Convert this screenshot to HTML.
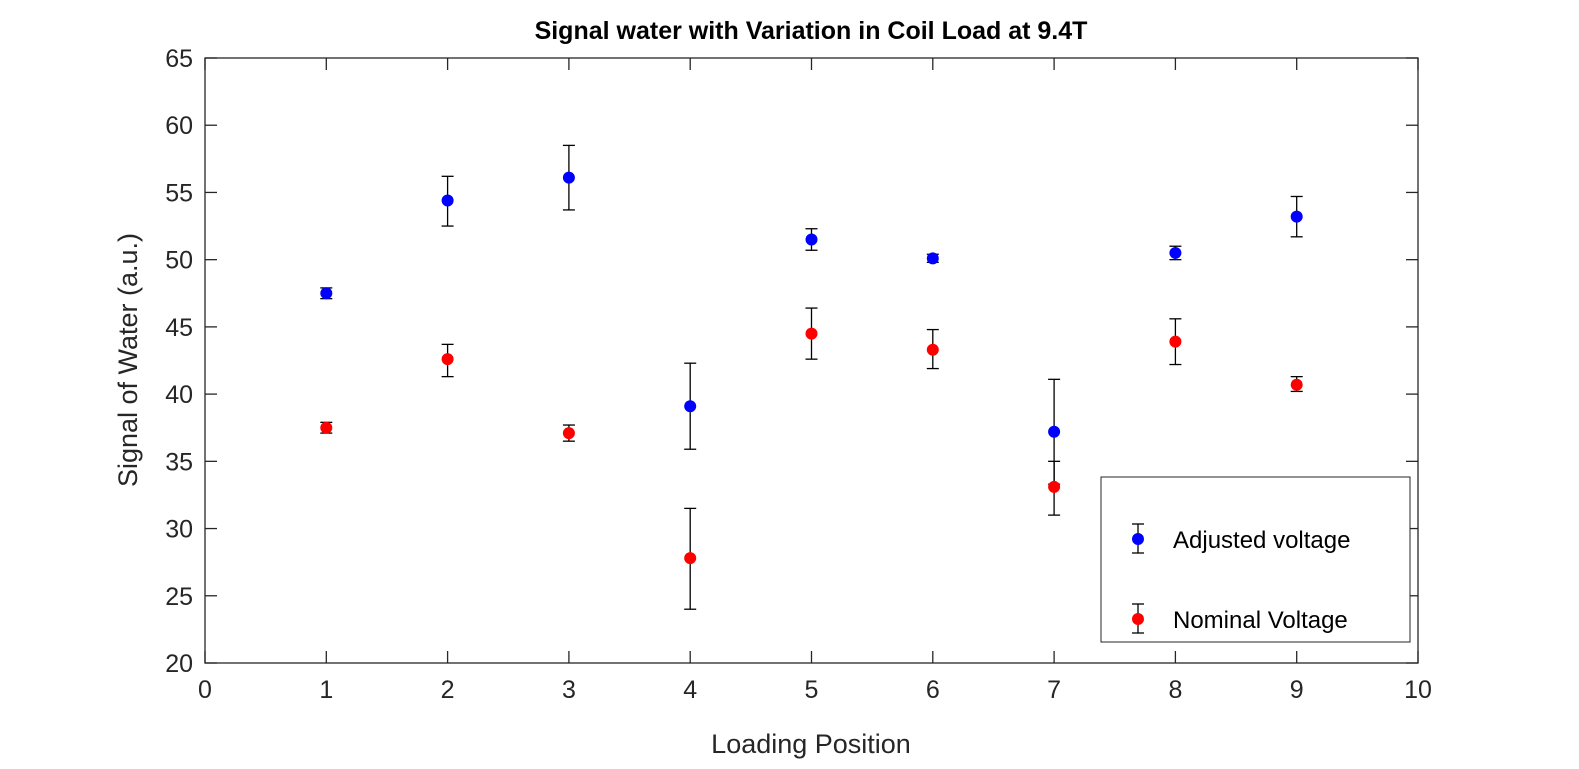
<!DOCTYPE html>
<html><head><meta charset="utf-8"><style>
body{margin:0;background:#fff;}
svg{display:block;font-family:"Liberation Sans",Arial,sans-serif;}
</style></head><body>
<svg id="chart" width="1579" height="769">
<rect width="1579" height="769" fill="#fff"/>
<text x="811" y="39" text-anchor="middle" font-size="25" font-weight="bold" fill="#000">Signal water with Variation in Coil Load at 9.4T</text>
<g id="axes"></g>
<g id="marks"></g>
<text x="811" y="753" text-anchor="middle" font-size="27" fill="#262626">Loading Position</text>
<text transform="translate(137,360) rotate(-90)" text-anchor="middle" font-size="27" fill="#262626">Signal of Water (a.u.)</text>
<g>
<rect x="1101" y="477" width="309" height="165" fill="#fff" stroke="#262626" stroke-width="1"/>
<g>
<line x1="1138" y1="524" x2="1138" y2="553" stroke="#000" stroke-width="1.3"/>
<line x1="1132" y1="524" x2="1144" y2="524" stroke="#000" stroke-width="1.3"/>
<line x1="1132" y1="553" x2="1144" y2="553" stroke="#000" stroke-width="1.3"/>
<circle cx="1138" cy="539" r="6" fill="#0000ff"/>
<text x="1173" y="548" font-size="24" fill="#000">Adjusted voltage</text>
</g>
<g>
<line x1="1138" y1="604" x2="1138" y2="633" stroke="#000" stroke-width="1.3"/>
<line x1="1132" y1="604" x2="1144" y2="604" stroke="#000" stroke-width="1.3"/>
<line x1="1132" y1="633" x2="1144" y2="633" stroke="#000" stroke-width="1.3"/>
<circle cx="1138" cy="619" r="6" fill="#ff0000"/>
<text x="1173" y="628" font-size="24" fill="#000">Nominal Voltage</text>
</g>
</g>
</svg>
<script>
const categories=[1,2,3,4,5,6,7,8,9];
const adjustedValues=[47.5,54.4,56.1,39.1,51.5,50.1,37.2,50.5,53.2];
const adjustedLow=[47.1,52.5,53.7,35.9,50.7,49.8,33.3,50.0,51.7];
const adjustedHigh=[47.9,56.2,58.5,42.3,52.3,50.4,41.1,51.0,54.7];
const nominalValues=[37.5,42.6,37.1,27.8,44.5,43.3,33.1,43.9,40.7];
const nominalLow=[37.1,41.3,36.5,24.0,42.6,41.9,31.0,42.2,40.2];
const nominalHigh=[37.9,43.7,37.7,31.5,46.4,44.8,35.0,45.6,41.3];
const xTicks=[0,1,2,3,4,5,6,7,8,9,10];
const yTicks=[20,25,30,35,40,45,50,55,60,65];

const L=205,R=1418,T=58,B=663;
const xs=v=>L+(v-0)/(10-0)*(R-L);
const ys=v=>B-(v-20)/(65-20)*(B-T);
const NS="http://www.w3.org/2000/svg";
function mk(tag,attrs,parent){const e=document.createElementNS(NS,tag);for(const k in attrs)e.setAttribute(k,attrs[k]);parent.appendChild(e);return e;}
const ax=document.getElementById('axes');
const frame=mk('rect',{x:L,y:T,width:R-L,height:B-T,fill:'none',stroke:'#262626','stroke-width':1.3},ax);


xTicks.forEach(t=>{const x=xs(t);
mk('line',{x1:x,y1:B,x2:x,y2:B-12,stroke:'#262626','stroke-width':1.3},ax);
mk('line',{x1:x,y1:T,x2:x,y2:T+12,stroke:'#262626','stroke-width':1.3},ax);
const tx=mk('text',{x:x,y:B+35,'text-anchor':'middle','font-size':25,fill:'#262626'},ax);tx.textContent=t;


});
yTicks.forEach(t=>{const y=ys(t);
mk('line',{x1:L,y1:y,x2:L+12,y2:y,stroke:'#262626','stroke-width':1.3},ax);
mk('line',{x1:R,y1:y,x2:R-12,y2:y,stroke:'#262626','stroke-width':1.3},ax);
const tx=mk('text',{x:L-12,y:y+9,'text-anchor':'end','font-size':25,fill:'#262626'},ax);tx.textContent=t;


});
const mg=document.getElementById('marks');
function series(vals,lo,hi,color,name){
categories.forEach((c,i)=>{const x=xs(c);
const g=mk('g',{},mg);


mk('line',{x1:x,y1:ys(lo[i]),x2:x,y2:ys(hi[i]),stroke:'#000','stroke-width':1.3},g);
mk('line',{x1:x-6,y1:ys(lo[i]),x2:x+6,y2:ys(lo[i]),stroke:'#000','stroke-width':1.3},g);
mk('line',{x1:x-6,y1:ys(hi[i]),x2:x+6,y2:ys(hi[i]),stroke:'#000','stroke-width':1.3},g);
mk('circle',{cx:x,cy:ys(vals[i]),r:6,fill:color},g);
});}
series(adjustedValues,adjustedLow,adjustedHigh,'#0000ff','adjusted');
series(nominalValues,nominalLow,nominalHigh,'#ff0000','nominal');
</script>
</body></html>
